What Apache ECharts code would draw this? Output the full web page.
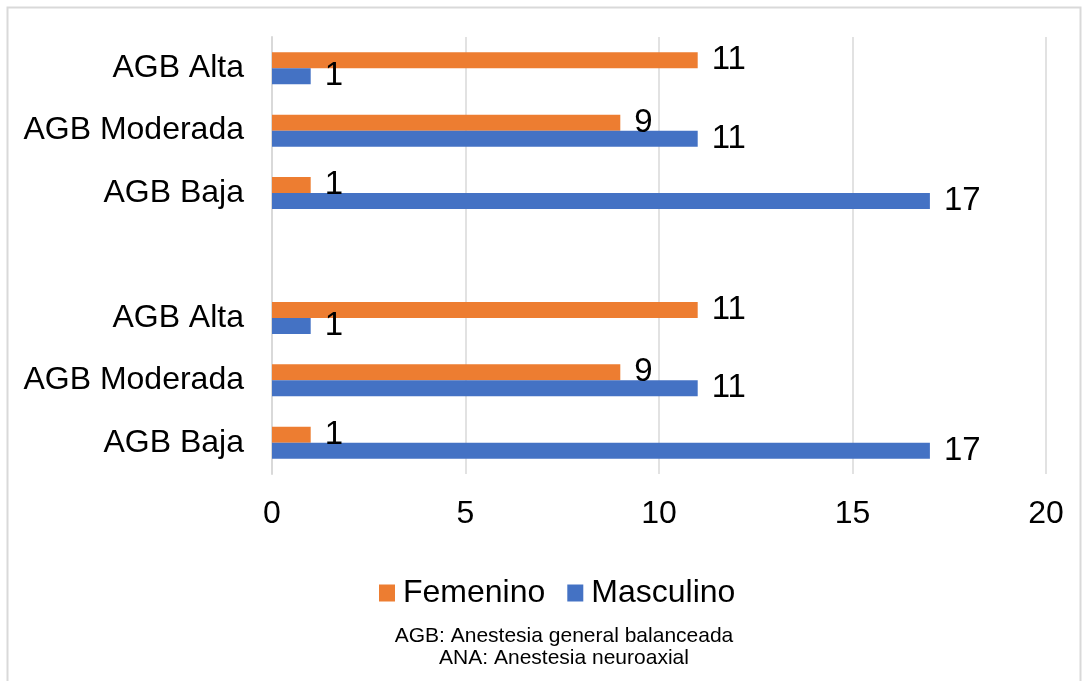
<!DOCTYPE html>
<html>
<head>
<meta charset="utf-8">
<script src="https://cdn.jsdelivr.net/npm/echarts@6/dist/echarts.min.js"></script>
<style>
  html, body { margin: 0; padding: 0; background: #fff; }
  #chart { width: 1087px; height: 681px; }
</style>
</head>
<body>
<div id="chart"></div>
<script>
// Categories, top to bottom (empty slot separates the two groups)
const categories = ['AGB Alta', 'AGB Moderada', 'AGB Baja', '', 'AGB Alta', 'AGB Moderada', 'AGB Baja'];
const femenino = [11, 9, 1, null, 11, 9, 1];
const masculino = [1, 11, 17, null, 1, 11, 17];
const seriesNames = ['Femenino', 'Masculino'];
const xTicks = { min: 0, max: 20, interval: 5 };
const footnotes = ['AGB: Anestesia general balanceada', 'ANA: Anestesia neuroaxial'];

const FONT = 'Liberation Sans, Arial, sans-serif';
const chart = echarts.init(document.getElementById('chart'), null, { renderer: 'canvas' });

const labelCfg = {
  show: true,
  position: 'right',
  distance: 14,
  color: '#000',
  fontSize: 33,
  fontFamily: FONT
};

chart.setOption({
  animation: false,
  backgroundColor: '#fff',
  grid: { left: 272, right: 41, top: 37, bottom: 207, containLabel: false },
  legend: {
    data: seriesNames,
    top: 572,
    left: 374,
    icon: 'rect',
    itemWidth: 16,
    itemHeight: 17,
    itemGap: 22,
    textStyle: { fontSize: 32, color: '#000', fontFamily: FONT, padding: [0, 0, 0, 3] }
  },
  xAxis: {
    type: 'value',
    min: xTicks.min,
    max: xTicks.max,
    interval: xTicks.interval,
    axisLine: { show: false },
    axisTick: { show: false },
    axisLabel: { fontSize: 32, color: '#000', fontFamily: FONT, margin: 24 },
    splitLine: { show: true, lineStyle: { color: '#d9d9d9', width: 1.5 } }
  },
  yAxis: {
    type: 'category',
    inverse: true,
    data: categories,
    axisLine: { show: true, lineStyle: { color: '#d9d9d9', width: 2 } },
    axisTick: { show: false },
    axisLabel: { fontSize: 32, color: '#000', fontFamily: FONT, margin: 28 }
  },
  series: [
    {
      name: seriesNames[0],
      type: 'bar',
      data: femenino,
      itemStyle: { color: '#ED7D31' },
      barGap: '0%',
      barCategoryGap: '48.7%',
      label: labelCfg
    },
    {
      name: seriesNames[1],
      type: 'bar',
      data: masculino,
      itemStyle: { color: '#4472C4' },
      barGap: '0%',
      barCategoryGap: '48.7%',
      label: labelCfg
    }
  ],
  graphic: [
    {
      type: 'rect',
      shape: { x: 7.5, y: 7.5, width: 1073, height: 700 },
      style: { fill: 'none', stroke: '#d9d9d9', lineWidth: 2 },
      silent: true
    },
    {
      type: 'text',
      x: 564,
      y: 636,
      style: { text: footnotes[0], fontSize: 21, fill: '#000', fontFamily: FONT, align: 'center', verticalAlign: 'middle' }
    },
    {
      type: 'text',
      x: 564,
      y: 658,
      style: { text: footnotes[1], fontSize: 21, fill: '#000', fontFamily: FONT, align: 'center', verticalAlign: 'middle' }
    }
  ]
});
</script>
</body>
</html>
